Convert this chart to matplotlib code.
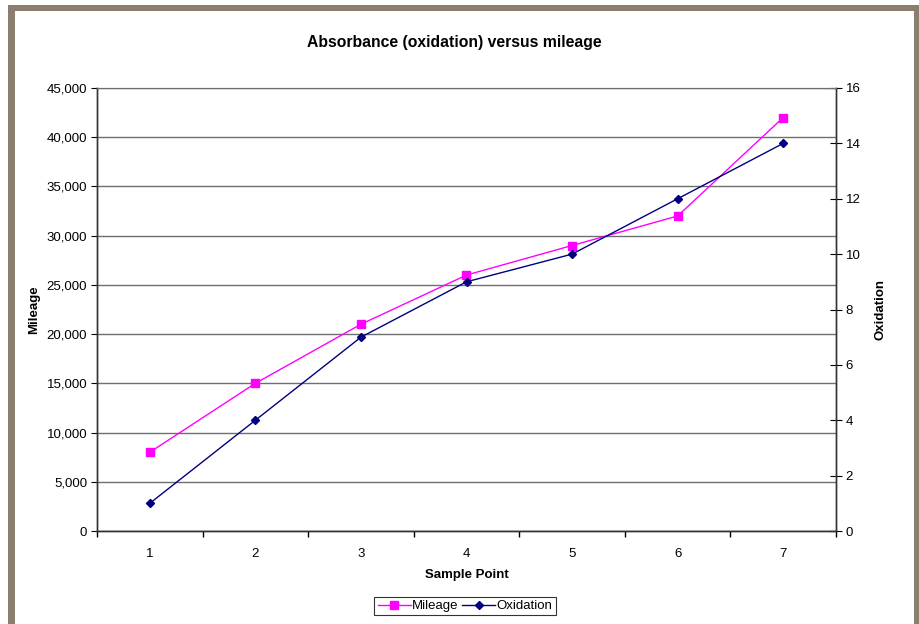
import matplotlib
matplotlib.use("Agg")
import matplotlib.pyplot as plt
from matplotlib.patches import Rectangle
from matplotlib.ticker import FuncFormatter, MultipleLocator
from matplotlib.lines import Line2D

# sample data
sample_points = [1, 2, 3, 4, 5, 6, 7]
mileage = [8000, 15000, 21000, 26000, 29000, 32000, 42000]
oxidation = [1, 4, 7, 9, 10, 12, 14]

plt.rcParams['font.family'] = ['Liberation Sans', 'DejaVu Sans']

fig = plt.figure(figsize=(9.2, 6.24), dpi=100)
fig.patch.set_facecolor('white')

# frame round the chart (left, top, right)
frame_col = '#8b7e6f'
fig.patches.append(Rectangle((8/920, 0), 7/920, 1 - 5/624, transform=fig.transFigure,
                             facecolor=frame_col, edgecolor='none', zorder=0))
fig.patches.append(Rectangle((8/920, 1 - 11/624), 1 - 8/920, 6/624, transform=fig.transFigure,
                             facecolor=frame_col, edgecolor='none', zorder=0))
fig.patches.append(Rectangle((914/920, 0), 6/920, 1 - 5/624, transform=fig.transFigure,
                             facecolor=frame_col, edgecolor='none', zorder=0))

ax = fig.add_axes([97/920, 1 - 531/624, (836 - 97)/920, (531 - 88)/624])
ax2 = ax.twinx()

ax.set_xlim(0.5, 7.5)
ax.set_ylim(0, 45000)
ax2.set_ylim(0, 16)

# gridlines from the mileage axis
ax.yaxis.set_major_locator(MultipleLocator(5000))
ax.grid(axis='y', color='#6f6f6f', linewidth=1)
ax.set_axisbelow(True)
ax.yaxis.set_major_formatter(FuncFormatter(lambda v, p: f"{int(v):,}"))
ax2.yaxis.set_major_locator(MultipleLocator(2))

fs = 9.5
# category labels with ticks between categories
ax.set_xticks(sample_points)
ax.set_xticklabels([str(s) for s in sample_points])
ax.tick_params(axis='x', which='major', length=0, pad=12, labelsize=fs)
ax.set_xticks([s + 0.5 for s in [0] + sample_points], minor=True)
ax.tick_params(axis='x', which='minor', length=4, direction='out', width=1)
ax.tick_params(axis='y', length=4, direction='out', labelsize=fs, pad=3)
ax2.tick_params(axis='y', length=8, direction='inout', labelsize=fs, pad=3)

for a in (ax, ax2):
    for s in ('left', 'right', 'bottom'):
        a.spines[s].set_color('#333333')
        a.spines[s].set_linewidth(1)
    a.spines['top'].set_color('#6f6f6f')

ax.plot(sample_points, mileage, color='#ff00ff', marker='s', markersize=5.5,
        linewidth=1, zorder=3)
ax2.plot(sample_points, oxidation, color='#000080', marker='D', markersize=4.5,
         linewidth=1, zorder=3)

fig.text(454/920, 1 - 42/624, 'Absorbance (oxidation) versus mileage', fontsize=11.3,
         fontweight='bold', ha='center', va='center')
ax.set_xlabel('Sample Point', fontsize=fs, fontweight='bold', labelpad=7)
ax.set_ylabel('Mileage', fontsize=fs, fontweight='bold', labelpad=5)
ax2.set_ylabel('Oxidation', fontsize=fs, fontweight='bold', labelpad=10)

handles = [Line2D([], [], color='#ff00ff', marker='s', markersize=5.5, linewidth=1),
           Line2D([], [], color='#000080', marker='D', markersize=4.5, linewidth=1)]
leg = fig.legend(handles, ['Mileage', 'Oxidation'], loc='center', ncol=2,
                 bbox_to_anchor=(465/920, 1 - 606/624), fontsize=fs, frameon=True,
                 fancybox=False, edgecolor='black', handlelength=2.5, handletextpad=0.1,
                 columnspacing=0.3, borderpad=0.25)
leg.get_frame().set_linewidth(0.8)

fig.savefig('out.png', dpi=100)
